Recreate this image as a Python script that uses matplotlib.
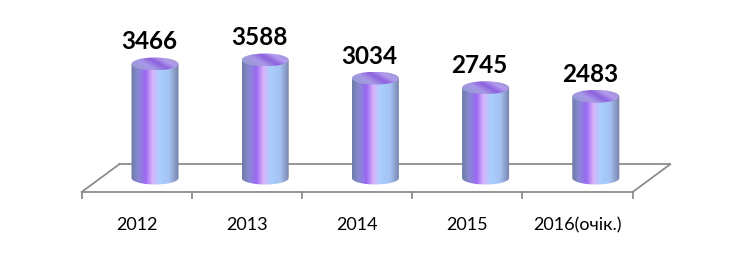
import numpy as np
import matplotlib
matplotlib.use('Agg')
import matplotlib.pyplot as plt
from matplotlib.colors import LinearSegmentedColormap
from matplotlib.patches import Ellipse, PathPatch
from matplotlib.path import Path

years = ['2012', '2013', '2014', '2015', '2016(очік.)']
values = [3466, 3588, 3034, 2745, 2483]

plt.rcParams['font.family'] = ['Lato', 'DejaVu Sans']

fig = plt.figure(figsize=(7.55, 2.65), dpi=100)
ax = fig.add_axes([0, 0, 1, 1])
ax.set_xlim(-1.4065, 5.4446)
ax.set_ylim(-2644, 5410)
ax.axis('off')

# floor of the 3d plot (front edge, back edge, sides)
depth_x = 0.17
depth_y = 420
x_front = [-0.6655, 4.3345]
y_front = -425
grid_c = '#8c8c8c'
ax.plot([x_front[0], x_front[1]], [y_front, y_front], color=grid_c, lw=1.3)
ax.plot([x_front[0] + 2 * depth_x, x_front[1] + 2 * depth_x], [y_front + 2 * depth_y, y_front + 2 * depth_y], color=grid_c, lw=1.3)
ax.plot([x_front[0], x_front[0] + 2 * depth_x], [y_front, y_front + 2 * depth_y], color=grid_c, lw=1.3)
ax.plot([x_front[1], x_front[1] + 2 * depth_x], [y_front, y_front + 2 * depth_y], color=grid_c, lw=1.3)
for k in range(len(years) + 1):
    ax.plot([x_front[0] + k, x_front[0] + k], [y_front, y_front - 190], color=grid_c, lw=1.3)

body_cmap = LinearSegmentedColormap.from_list('body', [
    (0.0, '#6c7ca4'), (0.15, '#8a88d6'), (0.3, '#9a68f2'), (0.45, '#dab4fb'),
    (0.6, '#a8cfff'), (0.8, '#a4c2f2'), (1.0, '#7480a6')])
top_cmap = LinearSegmentedColormap.from_list('top', [
    (0.0, '#8e9ccc'), (0.35, '#a898e6'), (0.55, '#8c62de'), (0.72, '#b49cee'),
    (1.0, '#8a92ba')])

w = 0.4265
eh = 395
grad = np.linspace(0, 1, 256).reshape(1, -1)
tg = np.add.outer(np.linspace(0.35, 0, 64), np.linspace(0, 0.75, 128))

for i, v in enumerate(values):
    x0, x1 = i - w / 2, i + w / 2
    t = np.linspace(np.pi, 2 * np.pi, 40)
    verts = [(x0, v), (x0, 0)] + [(i + w / 2 * np.cos(a), eh / 2 * np.sin(a)) for a in t] + [(x1, v), (x0, v)]
    clip = PathPatch(Path(verts), facecolor='none', edgecolor='none')
    ax.add_patch(clip)
    im = ax.imshow(grad, cmap=body_cmap, extent=[x0, x1, -eh / 2, v], aspect='auto', interpolation='bilinear', zorder=3)
    im.set_clip_path(clip)
    top = Ellipse((i, v), w, eh, facecolor='none', edgecolor='none')
    ax.add_patch(top)
    im2 = ax.imshow(tg, cmap=top_cmap, extent=[x0, x1, v - eh / 2, v + eh / 2], aspect='auto', interpolation='bilinear', zorder=4)
    im2.set_clip_path(top)
    ax.annotate(str(v), (i, v), xytext=(-6, 22), textcoords='offset pixels',
                ha='center', va='center', fontsize=17.5, fontweight='bold', color='black', zorder=5)

for k, lab in enumerate(years):
    ax.text(x_front[0] + k + 0.5, -1430, lab, ha='center', va='center', fontsize=13, color='black')

fig.savefig('out.png', dpi=100, facecolor='white')
